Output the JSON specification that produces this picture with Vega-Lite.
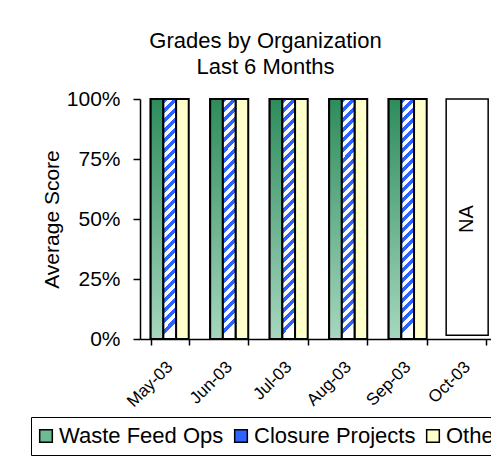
{
  "$schema": "https://vega.github.io/schema/vega-lite/v6.json",
  "autosize": {"type": "none"},
  "padding": {"left": 140, "top": 99, "right": 0, "bottom": 131},
  "width": 351,
  "height": 240,
  "background": "white",
  "config": {
    "view": {"stroke": null},
    "font": "Liberation Sans",
    "axis": {"labelColor": "black", "titleColor": "black", "domainColor": "black", "tickColor": "black", "grid": false, "titleFontWeight": "normal"}
  },
  "title": {
    "text": ["Grades by Organization", "Last 6 Months"],
    "fontSize": 22,
    "fontWeight": "normal",
    "font": "Liberation Sans",
    "color": "black",
    "anchor": "middle",
    "dx": -50,
    "lineHeight": 26,
    "offset": 9
  },
  "datasets": {
    "grades": [
      {"month": "May-03", "series": "Waste Feed Ops", "value": 1},
      {"month": "May-03", "series": "Closure Projects", "value": 1},
      {"month": "May-03", "series": "Other", "value": 1},
      {"month": "Jun-03", "series": "Waste Feed Ops", "value": 1},
      {"month": "Jun-03", "series": "Closure Projects", "value": 1},
      {"month": "Jun-03", "series": "Other", "value": 1},
      {"month": "Jul-03", "series": "Waste Feed Ops", "value": 1},
      {"month": "Jul-03", "series": "Closure Projects", "value": 1},
      {"month": "Jul-03", "series": "Other", "value": 1},
      {"month": "Aug-03", "series": "Waste Feed Ops", "value": 1},
      {"month": "Aug-03", "series": "Closure Projects", "value": 1},
      {"month": "Aug-03", "series": "Other", "value": 1},
      {"month": "Sep-03", "series": "Waste Feed Ops", "value": 1},
      {"month": "Sep-03", "series": "Closure Projects", "value": 1},
      {"month": "Sep-03", "series": "Other", "value": 1}
    ],
    "na": [
      {"month": "Oct-03", "label": "NA", "value": 1}
    ]
  },
  "encoding": {
    "x": {
      "field": "month",
      "type": "nominal",
      "sort": null,
      "scale": {
        "domain": ["May-03", "Jun-03", "Jul-03", "Aug-03", "Sep-03", "Oct-03"],
        "paddingInner": 0.36,
        "paddingOuter": 0.13,
        "align": 0.69
      },
      "axis": {
        "title": null,
        "labelAngle": -45,
        "labelAlign": "right",
        "labelBaseline": "middle",
        "labelFontSize": 17,
        "labelPadding": 19,
        "tickBand": "extent",
        "tickSize": 6,
        "domainWidth": 1.5,
        "tickWidth": 1.5
      }
    }
  },
  "layer": [
    {
      "data": {"name": "grades"},
      "mark": {"type": "bar", "stroke": "black", "strokeWidth": 2},
      "encoding": {
        "xOffset": {"field": "series", "type": "nominal", "scale": {"domain": ["Waste Feed Ops", "Closure Projects", "Other"], "paddingInner": 0, "paddingOuter": 0}},
        "y": {
          "field": "value",
          "type": "quantitative",
          "scale": {"domain": [0, 1], "nice": false},
          "axis": {
            "values": [0, 0.25, 0.5, 0.75, 1],
            "format": ".0%",
            "labelFontSize": 21,
            "labelPadding": 13,
            "tickSize": 7,
            "tickWidth": 1.5,
            "domainWidth": 1.5,
            "title": "Average Score",
            "titleFontSize": 21,
            "titleX": -88,
            "titleY": 120,
            "titleAngle": -90,
            "titleAlign": "center",
            "titleBaseline": "middle"
          }
        },
        "color": {
          "field": "series",
          "type": "nominal",
          "scale": {
            "domain": ["Waste Feed Ops", "Closure Projects", "Other"],
            "range": ["#6dba93", "#2f63ff", "#ffffcc"]
          },
          "legend": {
            "orient": "none",
            "legendX": -109,
            "legendY": 318,
            "direction": "horizontal",
            "columns": 3,
            "title": null,
            "strokeColor": "black",
            "fillColor": "white",
            "padding": 8,
            "symbolType": "square",
            "symbolSize": 160,
            "symbolOffset": -4,
            "symbolStrokeColor": "black",
            "symbolStrokeWidth": 1.5,
            "symbolOpacity": 1,
            "labelFontSize": 22,
            "labelFont": "Liberation Sans",
            "labelColor": "black",
            "labelOffset": 2,
            "labelLimit": 400,
            "columnPadding": 7,
            "encode": {
              "symbols": {
                "update": {
                  "stroke": {"value": "black"}
                },
                "stroke": {"value": "black"},
                "strokeWidth": {"value": 1.5}
              }
            }
          }
        }
      }
    },
    {
      "data": {"name": "grades"},
      "transform": [{"filter": "datum.series === 'Waste Feed Ops'"}],
      "mark": {
        "type": "bar",
        "stroke": "black",
        "strokeWidth": 2,
        "fill": {"gradient": "linear", "x1": 0, "y1": 0, "x2": 0, "y2": 1, "stops": [{"offset": 0, "color": "#2e8c5c"}, {"offset": 1, "color": "#a6d7bf"}]}
      },
      "encoding": {
        "xOffset": {"field": "series", "type": "nominal"},
        "y": {"field": "value", "type": "quantitative"}
      }
    },
    {
      "data": {"name": "grades"},
      "transform": [{"filter": "datum.series === 'Closure Projects'"}],
      "mark": {
        "type": "bar",
        "stroke": "black",
        "strokeWidth": 2,
        "fill": {
          "gradient": "linear", "x1": 0, "y1": 0, "x2": 0.053, "y2": 1,
          "stops": [
            {"offset": 0, "color": "#2f63ff"}, {"offset": 0.02083, "color": "#2f63ff"}, {"offset": 0.02083, "color": "white"}, {"offset": 0.04167, "color": "white"},
            {"offset": 0.04167, "color": "#2f63ff"}, {"offset": 0.0625, "color": "#2f63ff"}, {"offset": 0.0625, "color": "white"}, {"offset": 0.08333, "color": "white"},
            {"offset": 0.08333, "color": "#2f63ff"}, {"offset": 0.10417, "color": "#2f63ff"}, {"offset": 0.10417, "color": "white"}, {"offset": 0.125, "color": "white"},
            {"offset": 0.125, "color": "#2f63ff"}, {"offset": 0.14583, "color": "#2f63ff"}, {"offset": 0.14583, "color": "white"}, {"offset": 0.16667, "color": "white"},
            {"offset": 0.16667, "color": "#2f63ff"}, {"offset": 0.1875, "color": "#2f63ff"}, {"offset": 0.1875, "color": "white"}, {"offset": 0.20833, "color": "white"},
            {"offset": 0.20833, "color": "#2f63ff"}, {"offset": 0.22917, "color": "#2f63ff"}, {"offset": 0.22917, "color": "white"}, {"offset": 0.25, "color": "white"},
            {"offset": 0.25, "color": "#2f63ff"}, {"offset": 0.27083, "color": "#2f63ff"}, {"offset": 0.27083, "color": "white"}, {"offset": 0.29167, "color": "white"},
            {"offset": 0.29167, "color": "#2f63ff"}, {"offset": 0.3125, "color": "#2f63ff"}, {"offset": 0.3125, "color": "white"}, {"offset": 0.33333, "color": "white"},
            {"offset": 0.33333, "color": "#2f63ff"}, {"offset": 0.35417, "color": "#2f63ff"}, {"offset": 0.35417, "color": "white"}, {"offset": 0.375, "color": "white"},
            {"offset": 0.375, "color": "#2f63ff"}, {"offset": 0.39583, "color": "#2f63ff"}, {"offset": 0.39583, "color": "white"}, {"offset": 0.41667, "color": "white"},
            {"offset": 0.41667, "color": "#2f63ff"}, {"offset": 0.4375, "color": "#2f63ff"}, {"offset": 0.4375, "color": "white"}, {"offset": 0.45833, "color": "white"},
            {"offset": 0.45833, "color": "#2f63ff"}, {"offset": 0.47917, "color": "#2f63ff"}, {"offset": 0.47917, "color": "white"}, {"offset": 0.5, "color": "white"},
            {"offset": 0.5, "color": "#2f63ff"}, {"offset": 0.52083, "color": "#2f63ff"}, {"offset": 0.52083, "color": "white"}, {"offset": 0.54167, "color": "white"},
            {"offset": 0.54167, "color": "#2f63ff"}, {"offset": 0.5625, "color": "#2f63ff"}, {"offset": 0.5625, "color": "white"}, {"offset": 0.58333, "color": "white"},
            {"offset": 0.58333, "color": "#2f63ff"}, {"offset": 0.60417, "color": "#2f63ff"}, {"offset": 0.60417, "color": "white"}, {"offset": 0.625, "color": "white"},
            {"offset": 0.625, "color": "#2f63ff"}, {"offset": 0.64583, "color": "#2f63ff"}, {"offset": 0.64583, "color": "white"}, {"offset": 0.66667, "color": "white"},
            {"offset": 0.66667, "color": "#2f63ff"}, {"offset": 0.6875, "color": "#2f63ff"}, {"offset": 0.6875, "color": "white"}, {"offset": 0.70833, "color": "white"},
            {"offset": 0.70833, "color": "#2f63ff"}, {"offset": 0.72917, "color": "#2f63ff"}, {"offset": 0.72917, "color": "white"}, {"offset": 0.75, "color": "white"},
            {"offset": 0.75, "color": "#2f63ff"}, {"offset": 0.77083, "color": "#2f63ff"}, {"offset": 0.77083, "color": "white"}, {"offset": 0.79167, "color": "white"},
            {"offset": 0.79167, "color": "#2f63ff"}, {"offset": 0.8125, "color": "#2f63ff"}, {"offset": 0.8125, "color": "white"}, {"offset": 0.83333, "color": "white"},
            {"offset": 0.83333, "color": "#2f63ff"}, {"offset": 0.85417, "color": "#2f63ff"}, {"offset": 0.85417, "color": "white"}, {"offset": 0.875, "color": "white"},
            {"offset": 0.875, "color": "#2f63ff"}, {"offset": 0.89583, "color": "#2f63ff"}, {"offset": 0.89583, "color": "white"}, {"offset": 0.91667, "color": "white"},
            {"offset": 0.91667, "color": "#2f63ff"}, {"offset": 0.9375, "color": "#2f63ff"}, {"offset": 0.9375, "color": "white"}, {"offset": 0.95833, "color": "white"},
            {"offset": 0.95833, "color": "#2f63ff"}, {"offset": 0.97917, "color": "#2f63ff"}, {"offset": 0.97917, "color": "white"}, {"offset": 1, "color": "white"}
          ]
        }
      },
      "encoding": {
        "xOffset": {"field": "series", "type": "nominal"},
        "y": {"field": "value", "type": "quantitative"}
      }
    },
    {
      "data": {"name": "na"},
      "mark": {"type": "bar", "fill": "white", "stroke": "black", "strokeWidth": 1.5, "width": 42},
      "encoding": {
        "y": {"field": "value", "type": "quantitative"},
        "y2": {"datum": 0.016}
      }
    },
    {
      "data": {"name": "na"},
      "mark": {"type": "text", "angle": 270, "fontSize": 20, "font": "Liberation Sans", "color": "black", "align": "center", "baseline": "middle"},
      "encoding": {
        "y": {"datum": 0.5, "type": "quantitative"},
        "text": {"field": "label"}
      }
    }
  ]
}
